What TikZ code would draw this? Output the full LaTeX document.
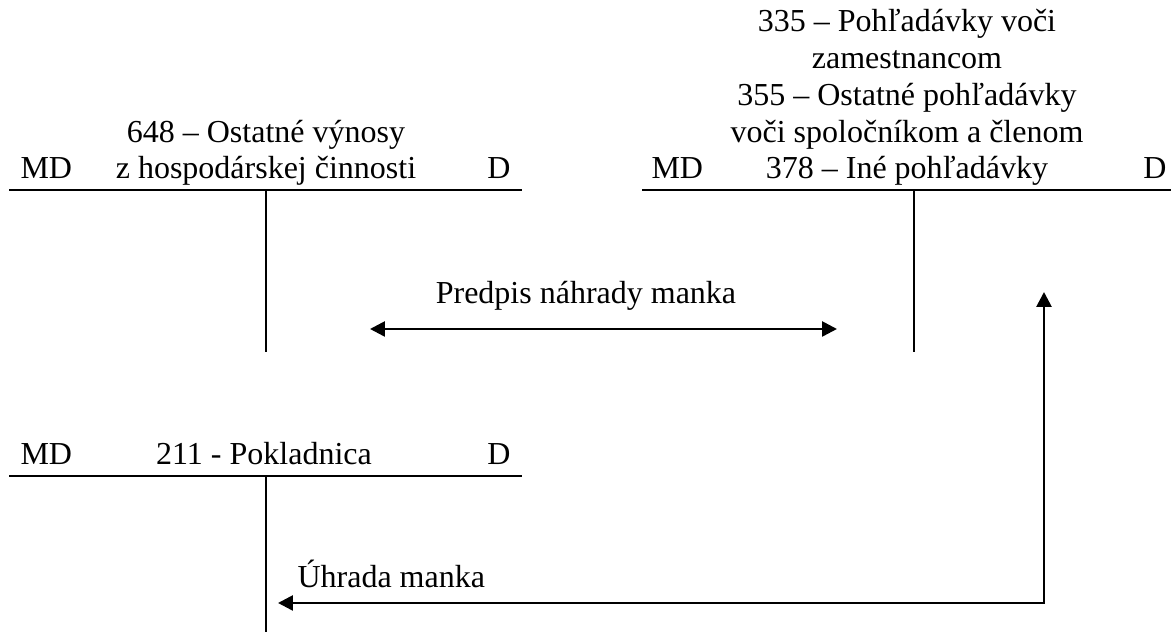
\documentclass[tikz,border=0pt]{standalone}
\usepackage{fontspec}
\setmainfont{Liberation Serif}
\usetikzlibrary{arrows.meta}
\begin{document}
\begin{tikzpicture}[x=0.375pt,y=-0.375pt,
  acct/.style={line width=0.8pt},
  tip/.tip={Triangle[length=5.6pt,width=5.6pt]},
  flow/.style={line width=1pt,line join=miter},
  lbl/.style={inner sep=0pt,font=\fontsize{12}{13.8}\selectfont},
]
\useasboundingbox (0,0) rectangle (1174,632);

% --- account 648 (top left T) ---
\coordinate (aL) at (9,190);
\coordinate (aR) at (522,190);
\coordinate (aT) at (266,190);
\coordinate (aB) at (266,352);
\draw[acct] (aL) -- (aR);
\draw[acct] (aT) -- (aB);
\node[lbl,anchor=base west] (aMD) at (20,179) {MD};
\node[lbl,anchor=base east] (aD) at (511,179) {D};
\node[lbl,anchor=base] (aTitle) at (266,179)
  {\begin{tabular}[b]{@{}c@{}}648 – Ostatné výnosy\\ z hospodárskej činnosti\end{tabular}};

% --- accounts 335/355/378 (top right T) ---
\coordinate (bL) at (642,190);
\coordinate (bR) at (1171,190);
\coordinate (bT) at (914,190);
\coordinate (bB) at (914,352);
\draw[acct] (bL) -- (bR);
\draw[acct] (bT) -- (bB);
\node[lbl,anchor=base west] (bMD) at (651,179) {MD};
\node[lbl,anchor=base east] (bD) at (1167,179) {D};
\node[lbl,anchor=base] (bTitle) at (907,179)
  {\begin{tabular}[b]{@{}c@{}}335 – Pohľadávky voči\\ zamestnancom\\ 355 – Ostatné pohľadávky\\ voči spoločníkom a členom\\ 378 – Iné pohľadávky\end{tabular}};

% --- account 211 (bottom T) ---
\coordinate (cL) at (9,476);
\coordinate (cR) at (522,476);
\coordinate (cT) at (266,476);
\coordinate (cB) at (266,632);
\draw[acct] (cL) -- (cR);
\draw[acct] (cT) -- (cB);
\node[lbl,anchor=base west] (cMD) at (20,465) {MD};
\node[lbl,anchor=base east] (cD) at (511,465) {D};
\node[lbl,anchor=base] (cTitle) at (264,465) {211 - Pokladnica};

% --- entry: claim for the shortage ---
\coordinate (pA) at (370,329);
\coordinate (pB) at (837,329);
\draw[flow,tip-tip] (pA) -- (pB);
\node[lbl,anchor=base] (pText) at (586,304) {Predpis náhrady manka};

% --- entry: payment of the shortage ---
\coordinate (uTop) at (1044,292);
\coordinate (uCorner) at (1044,603);
\coordinate (uEnd) at (278,603);
\draw[flow,tip-tip] (uEnd) -- (uCorner) -- (uTop);
\node[lbl,anchor=base west] (uText) at (297,588) {Úhrada manka};
\end{tikzpicture}
\end{document}
